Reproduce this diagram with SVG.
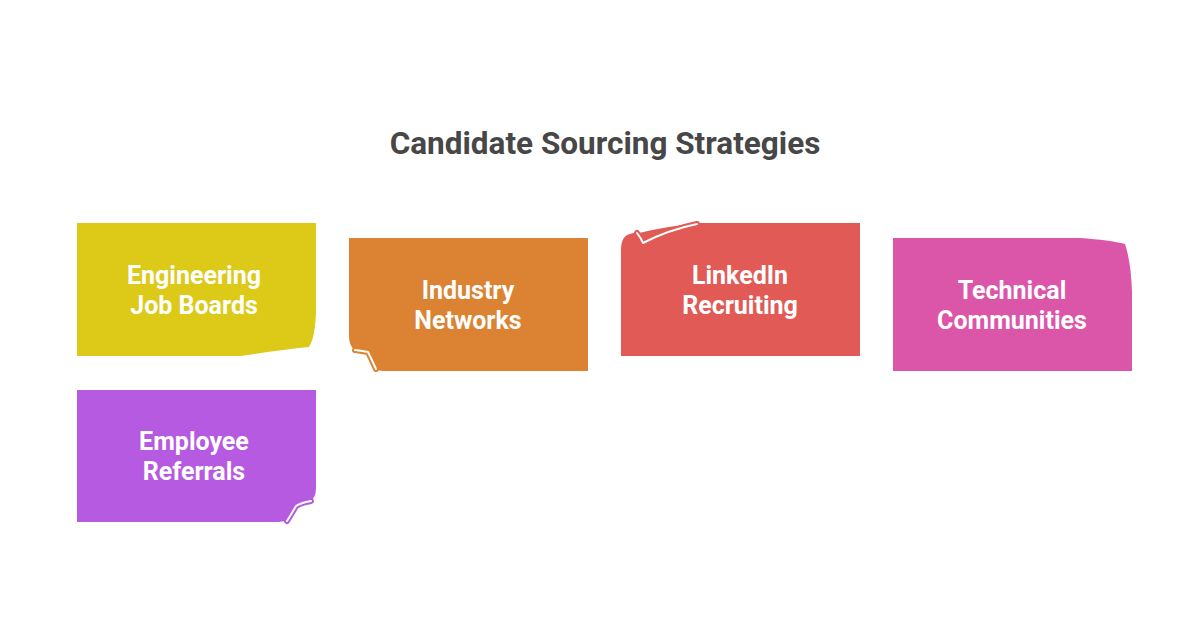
<svg xmlns="http://www.w3.org/2000/svg" width="1200" height="630" viewBox="0 0 1200 630">
<style>
.t{font-family:Roboto,"Liberation Sans",sans-serif;font-weight:bold;font-size:25px;fill:#ffffff;text-anchor:middle}
.h{font-family:Roboto,"Liberation Sans",sans-serif;font-weight:bold;font-size:31.5px;fill:#474747;text-anchor:middle}
.under{fill:none;stroke-width:6;stroke-linejoin:round;stroke-linecap:round}
.curl{fill:none;stroke:#ffffff;stroke-width:2;stroke-linejoin:round;stroke-linecap:round}
</style>
<rect width="1200" height="630" fill="#ffffff"/>
<text class="h" x="605" y="154">Candidate Sourcing Strategies</text>
<g id="connectors"/>
<g id="n1">
<path d="M77,223 H316 V312 Q315,338 309,347 Q280,350 240,356 H77 Z" fill="#DCC918"/>
<text class="t" x="194" y="284">Engineering</text>
<text class="t" x="194" y="314">Job Boards</text>
</g>
<g id="n2">
<path d="M349,238 H588 V371 H384 Q377,371 375,368 Q372,358 368,352 Q360,351 355,350 Q349,346 349,336 Z" fill="#DB8332"/>
<path class="under" stroke="#DB8332" d="M355,350 Q363,351 368,352 Q372,360 376,369"/>
<path class="curl" d="M355,350 Q363,351 368,352 Q372,360 376,369"/>
<text class="t" x="468" y="299">Industry</text>
<text class="t" x="468" y="329">Networks</text>
</g>
<g id="n3">
<path d="M621,356 V250 Q621,236 630,234 Q635,232 639,233 Q668,226 700,223 H860 V356 Z" fill="#E15A55"/>
<path class="under" stroke="#E15A55" d="M637,233 Q641,238 643,243 Q668,230 697,224"/>
<path class="curl" d="M637,233 Q641,238 643,243 Q668,230 697,224"/>
<text class="t" x="740" y="284">LinkedIn</text>
<text class="t" x="740" y="314">Recruiting</text>
</g>
<g id="n4">
<path d="M893,238 H1080 Q1110,240 1125,244 Q1131,262 1132,292 V371 H893 Z" fill="#DB56A8"/>
<text class="t" x="1012" y="299">Technical</text>
<text class="t" x="1012" y="329">Communities</text>
</g>
<g id="n5">
<path d="M77,390 H316 V488 Q316,498 310,501 Q300,503 296,506 Q292,514 287,520 Q283,522 275,522 H77 Z" fill="#B65AE2"/>
<path class="under" stroke="#B65AE2" d="M311,501 Q300,503 296,506 Q292,513 287,521"/>
<path class="curl" d="M311,501 Q300,503 296,506 Q292,513 287,521"/>
<text class="t" x="194" y="450">Employee</text>
<text class="t" x="194" y="480">Referrals</text>
</g>
</svg>
